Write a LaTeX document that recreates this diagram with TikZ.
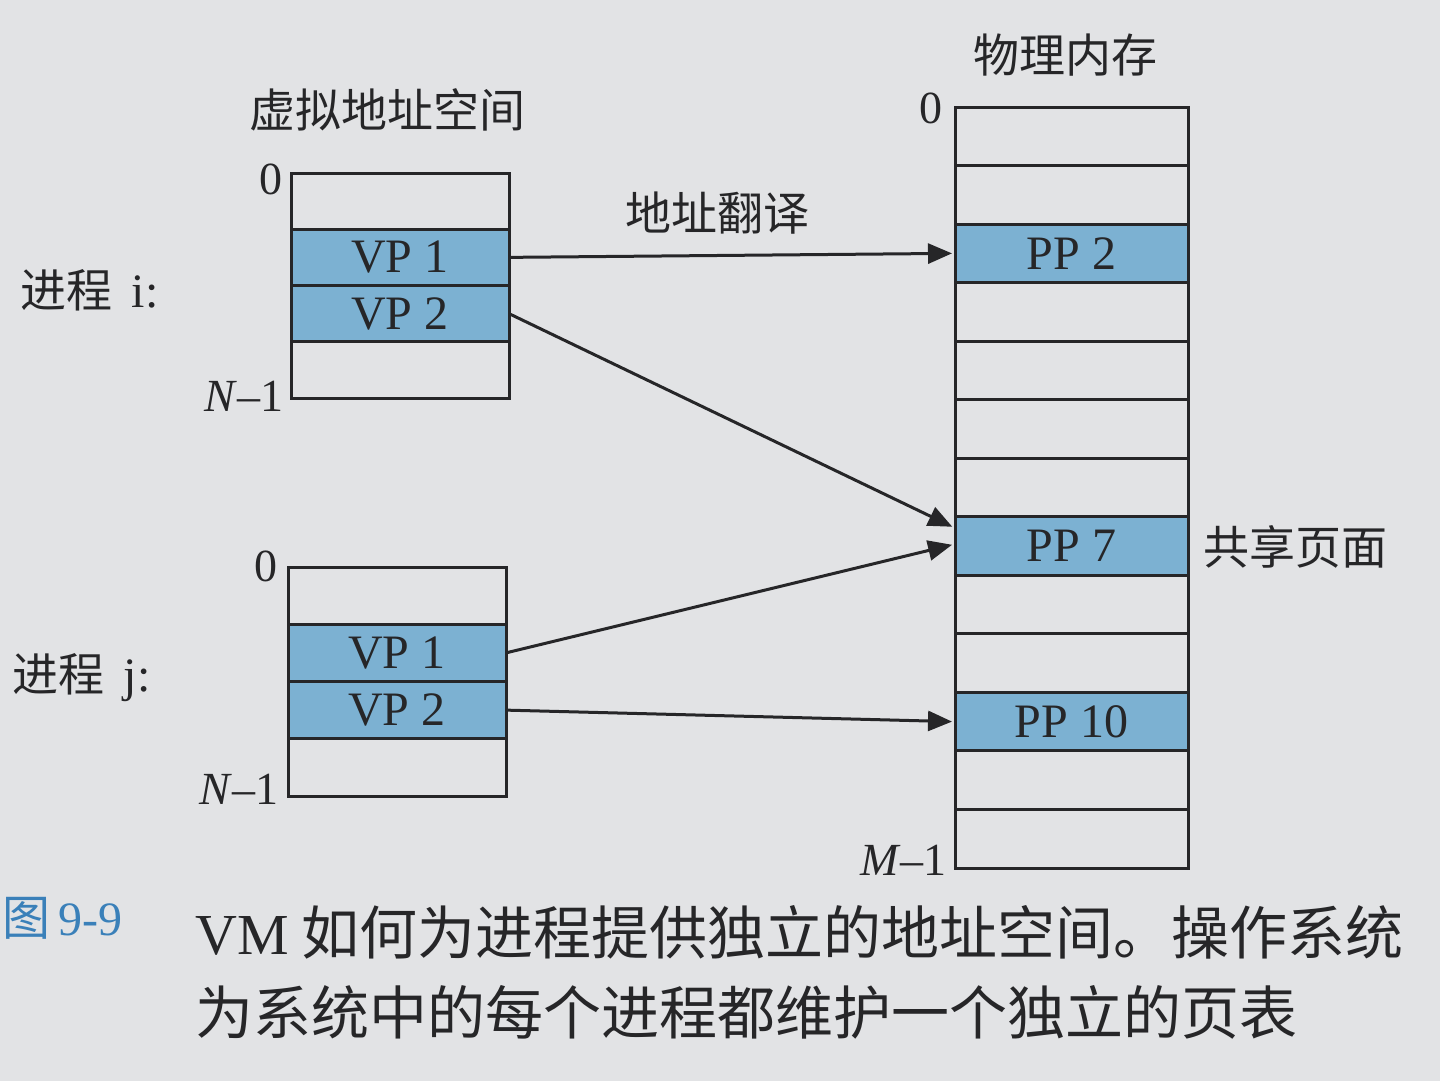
\documentclass[tikz,border=0pt]{standalone}
\usepackage{fontspec}
\setmainfont{Liberation Serif}
\newfontfamily\cjk{Noto Sans CJK SC}
\usetikzlibrary{arrows.meta}
\definecolor{paper}{RGB}{226,227,229}
\definecolor{pageblue}{RGB}{124,177,210}
\definecolor{ink}{RGB}{38,38,40}
\definecolor{capblue}{RGB}{58,128,185}
\begin{document}
\begin{tikzpicture}[x=1pt,y=-1pt,
  cell/.style={draw=ink, line width=3pt, inner sep=0pt, outer sep=0pt, anchor=north west,
    text=ink, font=\fontsize{48}{50}\selectfont},
  vcell/.style={cell, minimum width=218pt, minimum height=56.25pt},
  jcell/.style={cell, minimum width=218pt, minimum height=57.25pt},
  pcell/.style={cell, minimum width=233pt, minimum height=58.54pt},
  used/.style={fill=pageblue},
  arr/.style={draw=ink, line width=3pt, -{Triangle[length=24pt,width=20pt]}, shorten >=3pt},
  cjklab/.style={text=ink, inner sep=0pt, font=\cjk\fontsize{46}{48}\selectfont},
  numlab/.style={text=ink, inner sep=0pt, anchor=base east, font=\fontsize{46}{48}\selectfont},
  caption/.style={text=ink, inner sep=0pt, anchor=west, font=\cjk\fontsize{58}{62}\selectfont}
]
\useasboundingbox[fill=paper] (0,0) rectangle (1440,1081);

% process i
\node[vcell] (vi0) at (291,173) {};
\node[vcell,used] (vi1) at (291,229.25) {VP 1};
\node[vcell,used] (vi2) at (291,285.5) {VP 2};
\node[vcell] (vi3) at (291,341.75) {};

% process j
\node[jcell] (vj0) at (288,567) {};
\node[jcell,used] (vj1) at (288,624.25) {VP 1};
\node[jcell,used] (vj2) at (288,681.5) {VP 2};
\node[jcell] (vj3) at (288,738.75) {};

% physical memory
\foreach \k in {0,1,3,4,5,6,8,9,11,12} {
  \node[pcell] (p\k) at (955,107+58.54*\k) {};
}
\node[pcell,used] (p2) at (955,107+58.54*2) {PP 2};
\node[pcell,used] (p7) at (955,107+58.54*7) {PP 7};
\node[pcell,used] (p10) at (955,107+58.54*10) {PP 10};

% labels
\node[cjklab] (vastitle) at (387,110) {虚拟地址空间};
\node[cjklab] (pmtitle) at (1065,55) {物理内存};
\node[cjklab] (trans) at (717,213) {地址翻译};
\node[cjklab, anchor=west] (shared) at (1203,547) {共享页面};
\node[cjklab, anchor=west] (proci) at (20,290) {进程\,{\rmfamily\fontsize{48}{50}\selectfont\ i:}};
\node[cjklab, anchor=west] (procj) at (12,678) {进程\,{\rmfamily\fontsize{48}{50}\selectfont\ j:}};

\node[numlab] (zi) at (283,194) {0};
\node[numlab] (ni) at (284,411) {\textit{N}–1};
\node[numlab] (zj) at (278,581) {0};
\node[numlab] (nj) at (279,804) {\textit{N}–1};
\node[numlab] (zp) at (943,123) {0};
\node[numlab] (mp) at (947,875) {\textit{M}–1};

% arrows
\draw[arr] (vi1.east) -- (p2.west);
\draw[arr] (vi2.east) -- ([yshift=18pt]p7.west);
\draw[arr] (vj1.east) -- ([yshift=2pt]p7.west);
\draw[arr] (vj2.east) -- (p10.west);

% caption
\node[text=capblue, inner sep=0pt, anchor=west, font=\fontsize{48}{56}\selectfont] (fignum) at (2,918) {{\cjk 图}\,9-9};
\node[caption] (cap1) at (195,932) {{\rmfamily VM} 如何为进程提供独立的地址空间。操作系统};
\node[caption] (cap2) at (195,1012) {为系统中的每个进程都维护一个独立的页表};
\end{tikzpicture}
\end{document}
